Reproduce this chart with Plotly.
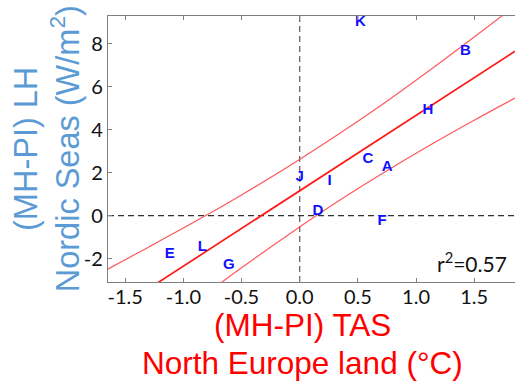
import numpy as np
import plotly.graph_objects as go

# Model labels and their (TAS, LH) anomalies
labels = ["A", "B", "C", "D", "E", "F", "G", "H", "I", "J", "K", "L"]
tas = [0.753, 1.424, 0.587, 0.157, -1.118, 0.708, -0.610, 1.103, 0.258, 0.0, 0.521, -0.837]
lh = [2.26, 7.64, 2.62, 0.21, -1.80, -0.25, -2.31, 4.90, 1.61, 1.80, 8.98, -1.49]

# Confidence band
band_x = [-1.65, -1.3, -0.9, -0.5, -0.1, 0.3, 0.7, 1.1, 1.5, 1.85]
band_upper = [-2.49, -1.47, -0.28, 0.96, 2.27, 3.66, 5.13, 6.69, 8.30, 9.75]
band_lower = [-7.15, -5.68, -4.03, -2.43, -0.90, 0.56, 1.92, 3.21, 4.43, 5.46]

x_tickvals = [-1.5, -1.0, -0.5, 0.0, 0.5, 1.0, 1.5]
x_ticktext = ["-1.5", "-1.0", "-0.5", "0.0", "0.5", "1.0", "1.5"]
y_tickvals = [-2, 0, 2, 4, 6, 8]
y_ticktext = ["-2", "0", "2", "4", "6", "8"]

r2_text = "r<sup>2</sup>=0.57"

X_RANGE = [-1.648, 1.851]
Y_RANGE = [-3.09, 9.28]

# Linear regression from the points
slope, intercept = np.polyfit(tas, lh, 1)
fit_x = np.array(X_RANGE)
fit_y = intercept + slope * fit_x

fig = go.Figure()

band_color = "rgba(255,80,80,0.95)"
fig.add_trace(go.Scatter(x=band_x, y=band_upper, mode="lines",
                         line=dict(color=band_color, width=1.2, shape="spline"),
                         hoverinfo="skip", showlegend=False))
fig.add_trace(go.Scatter(x=band_x, y=band_lower, mode="lines",
                         line=dict(color=band_color, width=1.2, shape="spline"),
                         hoverinfo="skip", showlegend=False))
fig.add_trace(go.Scatter(x=fit_x, y=fit_y, mode="lines",
                         line=dict(color="#ff1a1a", width=1.7),
                         hoverinfo="skip", showlegend=False))
fig.add_trace(go.Scatter(x=tas, y=lh, mode="text", text=labels,
                         textposition="middle center",
                         textfont=dict(family="Liberation Sans", size=15,
                                       color="#1010ff", weight="bold"),
                         showlegend=False))

# dashed zero lines
fig.add_shape(type="line", xref="paper", yref="y", x0=0, x1=1, y0=0, y1=0,
              line=dict(color="#333333", width=1.3, dash="6px,4px"), layer="below")
fig.add_shape(type="line", xref="x", yref="paper", x0=0, x1=0, y0=0, y1=1,
              line=dict(color="#666666", width=1.3, dash="6px,4px"), layer="below")

axis_common = dict(showgrid=False, zeroline=False, showline=True,
                   linecolor="#808080", linewidth=1.2,
                   ticks="inside", ticklen=4, tickcolor="#808080", tickwidth=1,
                   tickfont=dict(family="Lato", size=20, color="#111111"))

fig.update_xaxes(range=X_RANGE, tickvals=x_tickvals, ticktext=x_ticktext,
                 mirror="ticks", ticklabelstandoff=-3, **axis_common)
fig.update_yaxes(range=Y_RANGE, tickvals=y_tickvals, ticktext=y_ticktext,
                 mirror=False, **axis_common)

red = "#ff0000"
blue = "#5b9bd5"
title_font = "Liberation Sans"
fig.add_annotation(text="(MH-PI) TAS", xref="paper", yref="paper",
                   x=0.4767, y=-0.163, xanchor="center", yanchor="middle",
                   showarrow=False, font=dict(family=title_font, size=31.5, color=red))
fig.add_annotation(text="North Europe land (°C)", xref="paper", yref="paper",
                   x=0.4767, y=-0.305, xanchor="center", yanchor="middle",
                   showarrow=False, font=dict(family=title_font, size=31.5, color=red))
fig.add_annotation(text="(MH-PI) LH", xref="paper", yref="paper",
                   x=-0.2015, y=0.5, xanchor="center", yanchor="middle", textangle=-90,
                   showarrow=False, font=dict(family=title_font, size=32.5, color=blue))
fig.add_annotation(text="Nordic Seas (W/m<sup>2</sup>)", xref="paper", yref="paper",
                   x=-0.105, y=0.5, xanchor="center", yanchor="middle", textangle=-90,
                   showarrow=False, font=dict(family=title_font, size=32.5, color=blue))
fig.add_annotation(text=r2_text, xref="paper", yref="paper",
                   x=0.985, y=0.075, xanchor="right", yanchor="middle",
                   showarrow=False, font=dict(family="Lato", size=21, color="#111111"))

fig.update_layout(width=515, height=383,
                  margin=dict(l=108, r=0, t=16, b=101),
                  paper_bgcolor="white", plot_bgcolor="white")

fig.write_html("out.html")
